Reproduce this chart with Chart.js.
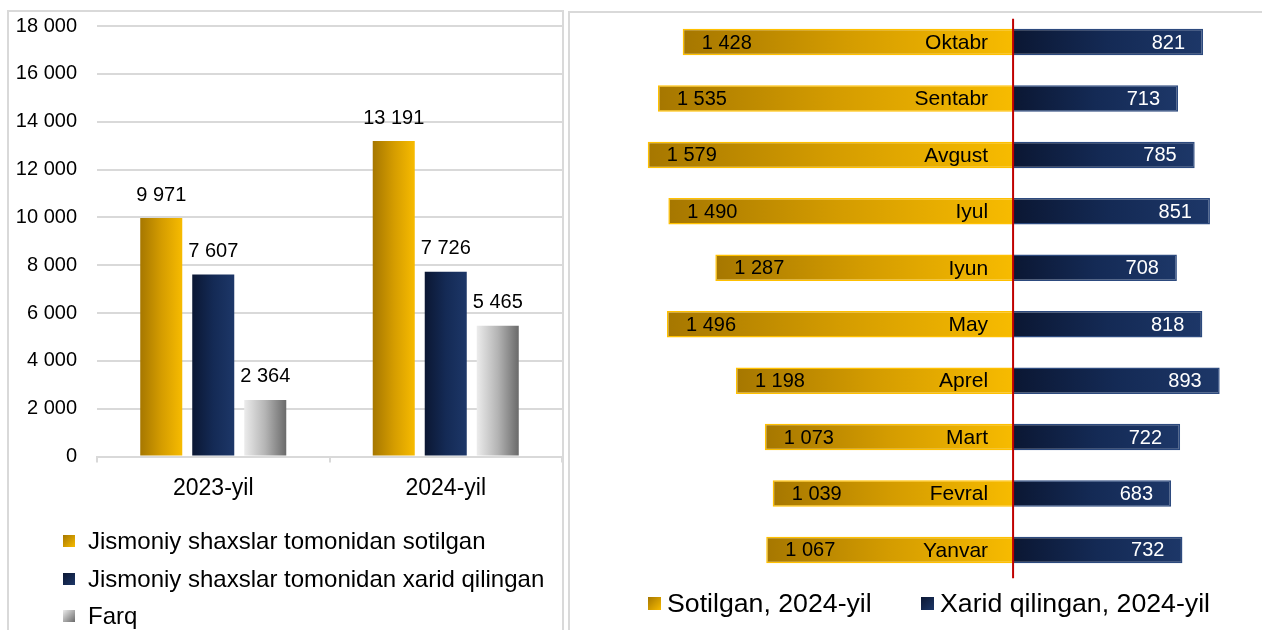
<!DOCTYPE html>
<html>
<head>
<meta charset="UTF-8">
<title>Jismoniy shaxslar: sotilgan va xarid qilingan</title>
<script src="https://cdn.jsdelivr.net/npm/chart.js"></script>
<style>
    body {
        margin: 0;
        width: 1262px;
        height: 630px;
        overflow: hidden;
        background: #fff;
        position: relative;
        font-family: "Liberation Sans", Arial, sans-serif;
    }
    .panel {
        position: absolute;
        border: 2px solid #d9d9d9;
        box-sizing: border-box;
    }
    #leftPanel { left: 7px; top: 10px; width: 557px; height: 660px; }
    #rightPanel { left: 568px; top: 11px; width: 720px; height: 660px; }
    #leftBox { position: absolute; left: 0; top: 0; width: 566px; height: 630px; }
    #rightBox { position: absolute; left: 569px; top: 0; width: 693px; height: 630px; }
    .legend-item {
        position: absolute;
        display: flex;
        align-items: center;
        white-space: nowrap;
        color: #000;
    }
    .legend-item .box { flex: none; }
    #leftLegend .legend-item { font-size: 24px; height: 36px; left: 63px; }
    #leftLegend .box { width: 12px; height: 12px; margin-right: 13px; }
    #rightLegend .legend-item { font-size: 26.7px; height: 36px; top: 585px; }
    #rightLegend .box { width: 13px; height: 13px; margin-right: 6px; }
</style>
</head>
<body>
<div class="panel" id="leftPanel"></div>
<div class="panel" id="rightPanel"></div>
<div id="leftBox"><canvas id="yearChart"></canvas></div>
<div id="rightBox"><canvas id="monthChart"></canvas></div>
<div id="leftLegend"></div>
<div id="rightLegend"></div>

<script>
    // chap grafik: yillar bo'yicha
    const years = ['2023-yil', '2024-yil'];
    const seriesNames = [
        'Jismoniy shaxslar tomonidan sotilgan',
        'Jismoniy shaxslar tomonidan xarid qilingan',
        'Farq'
    ];
    const soldByYear = [9971, 13191];
    const boughtByYear = [7607, 7726];
    const diffByYear = [2364, 5465];
    const yTicks = [0, 2000, 4000, 6000, 8000, 10000, 12000, 14000, 16000, 18000];

    // o'ng grafik: oylar bo'yicha (2024-yil)
    const months = ['Yanvar', 'Fevral', 'Mart', 'Aprel', 'May', 'Iyun', 'Iyul', 'Avgust', 'Sentabr', 'Oktabr'];
    const soldByMonth = [1067, 1039, 1073, 1198, 1496, 1287, 1490, 1579, 1535, 1428];
    const boughtByMonth = [732, 683, 722, 893, 818, 708, 851, 785, 713, 821];
    const monthSeriesNames = ['Sotilgan, 2024-yil', 'Xarid qilingan, 2024-yil'];

    const FONT = '"Liberation Sans", Arial, sans-serif';
    const GOLD = ['#a67700', '#d49c00', '#f7bb00'];
    const NAVY = ['#0b1733', '#142a55', '#1d3768'];
    const GREY = ['#ececec', '#b4b4b4', '#6a6a6a'];

    function fmt(n) {
        return String(n).replace(/\B(?=(\d{3})+(?!\d))/g, ' ');
    }

    // har bir ustun uchun gorizontal gradient
    function barGradient(stops) {
        return function(ctx) {
            const el = ctx.element;
            if (ctx.type !== 'data' || !el || el.x === undefined || isNaN(el.x) || isNaN(el.base)) {
                return stops[stops.length - 1];
            }
            let x0, x1;
            if (ctx.chart.options.indexAxis === 'y') {
                x0 = Math.min(el.x, el.base);
                x1 = Math.max(el.x, el.base);
            } else {
                x0 = el.x - el.width / 2;
                x1 = el.x + el.width / 2;
            }
            if (!(x1 > x0)) return stops[stops.length - 1];
            const g = ctx.chart.ctx.createLinearGradient(x0, 0, x1, 0);
            stops.forEach((s, i) => g.addColorStop(i / (stops.length - 1), s));
            return g;
        };
    }

    const yearLabels = {
        id: 'yearLabels',
        afterDatasetsDraw(chart) {
            const c = chart.ctx;
            c.save();
            c.font = '20px ' + FONT;
            c.fillStyle = '#000';
            c.textAlign = 'center';
            c.textBaseline = 'middle';
            chart.data.datasets.forEach((ds, i) => {
                chart.getDatasetMeta(i).data.forEach((bar, j) => {
                    c.fillText(fmt(ds.data[j]), bar.x, bar.y - 23);
                });
            });
            c.restore();
        }
    };

    const yearChart = new Chart(document.getElementById('yearChart'), {
        type: 'bar',
        data: {
            labels: years,
            datasets: [
                { label: seriesNames[0], data: soldByYear, backgroundColor: barGradient(GOLD) },
                { label: seriesNames[1], data: boughtByYear, backgroundColor: barGradient(NAVY) },
                { label: seriesNames[2], data: diffByYear, backgroundColor: barGradient(GREY) }
            ]
        },
        options: {
            responsive: true,
            maintainAspectRatio: false,
            animation: false,
            categoryPercentage: 0.671,
            barPercentage: 0.808,
            layout: { padding: { top: 26, right: 4, bottom: 123.5, left: 0 } },
            plugins: { legend: { display: false }, tooltip: { enabled: false } },
            scales: {
                x: {
                    grid: {
                        offset: true,
                        drawOnChartArea: false,
                        tickLength: 6,
                        color: '#d9d9d9',
                        lineWidth: 2
                    },
                    border: { display: true, color: '#d9d9d9', width: 2 },
                    ticks: { color: '#000', padding: 12, font: { family: FONT, size: 23 } },
                    afterFit(scale) { scale.height = 50; }
                },
                y: {
                    min: 0,
                    max: yTicks[yTicks.length - 1],
                    afterBuildTicks(scale) { scale.ticks = yTicks.map(v => ({ value: v })); },
                    grid: { color: '#d9d9d9', lineWidth: 2, drawTicks: false },
                    border: { display: false },
                    ticks: {
                        color: '#000',
                        padding: 20,
                        font: { family: FONT, size: 20 },
                        callback: v => fmt(v)
                    },
                    afterFit(scale) {
                        scale.width = 97;
                        scale.paddingTop = 0;
                        scale.paddingBottom = 0;
                    }
                }
            }
        },
        plugins: [yearLabels]
    });
    yearChart.update();

    const monthLabels = {
        id: 'monthLabels',
        afterDatasetsDraw(chart) {
            const c = chart.ctx;
            const area = chart.chartArea;
            c.save();
            c.textBaseline = 'middle';
            chart.getDatasetMeta(0).data.forEach((bar, j) => {
                c.fillStyle = '#000';
                c.font = '20px ' + FONT;
                c.textAlign = 'left';
                c.fillText(fmt(soldByMonth[j]), bar.x + 19, bar.y + 1);
                c.font = '21px ' + FONT;
                c.textAlign = 'right';
                c.fillText(months[j], bar.base - 25, bar.y + 1);
            });
            chart.getDatasetMeta(1).data.forEach((bar, j) => {
                c.fillStyle = '#fff';
                c.font = '20px ' + FONT;
                c.textAlign = 'right';
                c.fillText(fmt(boughtByMonth[j]), bar.x - 18, bar.y + 1);
            });
            // nol chizig'i
            const x0 = chart.scales.x.getPixelForValue(0);
            c.strokeStyle = '#c00000';
            c.lineWidth = 2;
            c.beginPath();
            c.moveTo(x0, area.top + 5);
            c.lineTo(x0, area.bottom);
            c.stroke();
            c.restore();
        }
    };

    const monthChart = new Chart(document.getElementById('monthChart'), {
        type: 'bar',
        data: {
            labels: months,
            datasets: [
                {
                    label: monthSeriesNames[0],
                    data: soldByMonth.map(v => -v),
                    backgroundColor: barGradient(GOLD),
                    borderColor: '#ffc000',
                    borderWidth: 1.5
                },
                {
                    label: monthSeriesNames[1],
                    data: boughtByMonth,
                    backgroundColor: barGradient(NAVY),
                    borderColor: '#2d4a7e',
                    borderWidth: 1.5
                }
            ]
        },
        options: {
            indexAxis: 'y',
            responsive: true,
            maintainAspectRatio: false,
            animation: false,
            categoryPercentage: 1,
            barPercentage: 0.47,
            layout: { padding: { top: 13.8, right: 6, bottom: 51.8, left: 4.5 } },
            plugins: { legend: { display: false }, tooltip: { enabled: false } },
            scales: {
                x: { display: false, stacked: true, min: -1900, max: 1050 },
                y: { display: false, stacked: true, reverse: true }
            }
        },
        plugins: [monthLabels]
    });
    monthChart.update();

    // legendalar
    const boxFills = [
        'linear-gradient(135deg, #a67700, #f7bb00)',
        'linear-gradient(135deg, #0b1733, #1d3768)',
        'linear-gradient(135deg, #ececec, #6a6a6a)'
    ];
    const leftLegend = document.getElementById('leftLegend');
    seriesNames.forEach((name, i) => {
        const item = document.createElement('div');
        item.className = 'legend-item';
        item.style.top = (523 + i * 37.5) + 'px';
        item.innerHTML = '<span class="box" style="background:' + boxFills[i] + '"></span><span>' + name + '</span>';
        leftLegend.appendChild(item);
    });
    const rightLegend = document.getElementById('rightLegend');
    const rightLeft = [648, 921];
    monthSeriesNames.forEach((name, i) => {
        const item = document.createElement('div');
        item.className = 'legend-item';
        item.style.left = rightLeft[i] + 'px';
        item.innerHTML = '<span class="box" style="background:' + boxFills[i] + '"></span><span>' + name + '</span>';
        rightLegend.appendChild(item);
    });
</script>
</body>
</html>
